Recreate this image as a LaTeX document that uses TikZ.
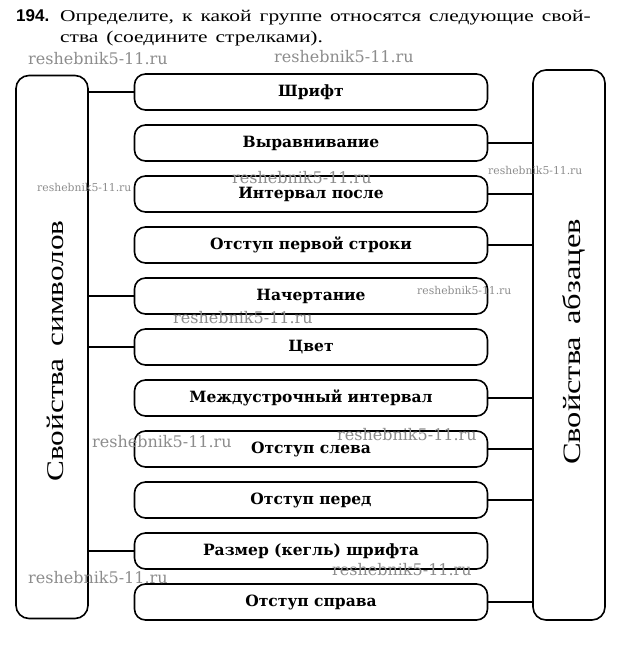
\documentclass[tikz,border=0pt]{standalone}
\usepackage{fontspec}
\setmainfont{Liberation Serif}[FakeStretch=1.3,WordSpace=1.5]
\newfontfamily\boxfont{DejaVu Serif}
\newfontfamily\numfont{Liberation Sans}
\usetikzlibrary{positioning}
\begin{document}
\begin{tikzpicture}[x=1pt,y=-1pt,
		prop/.style={draw,line width=1.6pt,rounded corners=11pt,
			minimum width=353pt,minimum height=36pt,inner sep=0pt,
			font=\boxfont\bfseries\fontsize{15.5}{17}\selectfont},
		group/.style={draw,line width=1.6pt,rounded corners=13pt,
			minimum width=72pt,inner sep=0pt},
		grouplabel/.style={rotate=90,inner sep=0pt},
		link/.style={line width=1.6pt},
		stamp/.style={text=black!45,inner sep=0pt,font=\boxfont\fontsize{16}{16}\selectfont},
		smallstamp/.style={stamp,font=\boxfont\fontsize{10.8}{11}\selectfont}]
		\useasboundingbox (0,0) rectangle (622,668);
		% task text
		\node[anchor=base west,inner sep=0pt] (num) at (16,22) {\numfont\bfseries\fontsize{17}{19}\selectfont 194.};
		\node[anchor=base west,inner sep=0pt,font=\fontsize{16.5}{18}\selectfont] (task1) at (60,22)
		{Определите, к какой группе относятся следующие свой-};
		\node[anchor=base west,inner sep=0pt,font=\fontsize{16.5}{18}\selectfont] (task2) at (60,43)
		{ства (соедините стрелками).};
		% properties
		\node[prop] (p1) at (311,92) {Шрифт};
		\node[prop,below=13.4pt of p1] (p2) {Выравнивание};
		\node[prop,below=13.4pt of p2] (p3) {Интервал после};
		\node[prop,below=13.4pt of p3] (p4) {Отступ первой строки};
		\node[prop,below=13.4pt of p4] (p5) {Начертание};
		\node[prop,below=13.4pt of p5] (p6) {Цвет};
		\node[prop,below=13.4pt of p6] (p7) {Междустрочный интервал};
		\node[prop,below=13.4pt of p7] (p8) {Отступ слева};
		\node[prop,below=13.4pt of p8] (p9) {Отступ перед};
		\node[prop,below=13.4pt of p9] (p10) {Размер (кегль) шрифта};
		\node[prop,below=13.4pt of p10] (p11) {Отступ справа};
		% groups
		\node[group,minimum height=543pt] (sym) at (52,347) {};
		\node[grouplabel,font=\fontsize{24}{26}\selectfont] (symlabel) at (55,351) {Свойства символов};
		\node[group,minimum height=550pt] (par) at (569,345) {};
		\node[grouplabel,font=\fontsize{25}{27}\selectfont] (parlabel) at (574,342) {Свойства абзацев};
		% connections
		\foreach \p in {p1,p5,p6,p10}
			\draw[link] (sym.east |- \p.west) -- (\p.west);
		\foreach \p in {p2,p3,p4,p7,p8,p9,p11}
			\draw[link] (\p.east) -- (par.west |- \p.east);
		% watermarks
		\node[stamp,anchor=base west] (w1) at (28,65) {reshebnik5-11.ru};
		\node[stamp,anchor=base west] (w2) at (274,63) {reshebnik5-11.ru};
		\node[smallstamp,anchor=west] (w3) at (37,187) {reshebnik5-11.ru};
		\node[stamp,anchor=west] (w4) at (232,178) {reshebnik5-11.ru};
		\node[smallstamp,anchor=west] (w5) at (488,170) {reshebnik5-11.ru};
		\node[stamp,anchor=west] (w6) at (173,318) {reshebnik5-11.ru};
		\node[smallstamp,anchor=west] (w7) at (417,290) {reshebnik5-11.ru};
		\node[stamp,anchor=west] (w8) at (92,442) {reshebnik5-11.ru};
		\node[stamp,anchor=west] (w9) at (337,435) {reshebnik5-11.ru};
		\node[stamp,anchor=west] (w10) at (28,578) {reshebnik5-11.ru};
		\node[stamp,anchor=west] (w11) at (332,570) {reshebnik5-11.ru};
\end{tikzpicture}
\end{document}
